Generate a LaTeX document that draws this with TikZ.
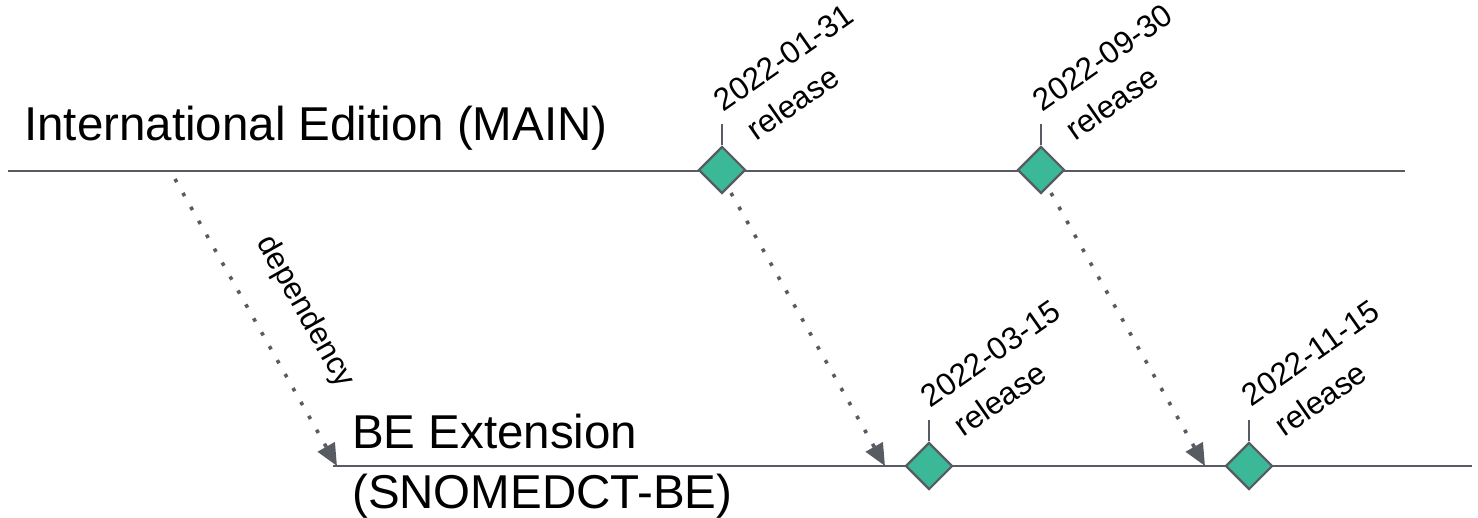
\documentclass[tikz,border=0pt]{standalone}
\usepackage{fontspec}
\setmainfont{Liberation Sans}
\usetikzlibrary{arrows.meta,shapes.geometric,calc}
\definecolor{lg}{RGB}{88,92,98}
\definecolor{msgreen}{RGB}{58,184,151}
\begin{document}
\begin{tikzpicture}[x=1pt,y=-1pt,
  timeline/.style={draw=lg, line width=2.5pt},
  milestone/.style={diamond, draw=lg, fill=msgreen, line width=2.2pt, minimum width=47pt, minimum height=47pt, inner sep=0pt},
  tickline/.style={draw=lg, line width=2.2pt},
  dep/.style={draw=lg, line width=3.6pt, dash pattern=on 3.6pt off 12.4pt, -{Triangle[length=22pt,width=19pt]}},
  big/.style={font=\fontsize{47.5}{63}\selectfont, inner sep=0pt},
  rel/.style={font=\fontsize{31.5}{43}\selectfont, rotate=35, align=left, inner sep=0pt},
]
\useasboundingbox (0,0) rectangle (1478,518);
% timelines
\coordinate (tl) at (8,171);
\coordinate (tr) at (1405,171);
\coordinate (bl) at (333,466);
\coordinate (br) at (1472,466);
\draw[timeline] (tl) -- (tr);
\draw[timeline] (bl) -- (br);
% titles
\node[big, anchor=base west] (main) at (24,141) {International Edition (MAIN)};
\node[big, anchor=base west] (be1) at (352,449) {BE Extension};
\node[big, anchor=base west] (be2) at (352,508) {(SNOMEDCT-BE)};
% dependency arrows
\coordinate (s0) at (175,179); \coordinate (e0) at (337,466);
\coordinate (s1) at (731,193); \coordinate (e1) at (885,466);
\coordinate (s2) at (1051,193); \coordinate (e2) at (1205,466);
\draw[dep] (s0) -- (e0);
\draw[dep] (s1) -- (e1);
\draw[dep] (s2) -- (e2);
\node[font=\fontsize{31}{37}\selectfont, rotate=-60.5, inner sep=0pt] (deplabel) at (305,312) {dependency};
% milestones
\node[milestone] (d1) at (722,170) {};
\node[milestone] (d2) at (1041,170) {};
\node[milestone] (d3) at (929,466) {};
\node[milestone] (d4) at (1249,466) {};
\foreach \d in {d1,d2,d3,d4}{
  \draw[tickline] (\d.north) -- ++(0,-21);
}
\node[rel] (l1) at ($(d1)+(74,-95)$) {2022-01-31\\\hspace*{10pt}release};
\node[rel] (l2) at ($(d2)+(74,-95)$) {2022-09-30\\\hspace*{10pt}release};
\node[rel] (l3) at ($(d3)+(74,-95)$) {2022-03-15\\\hspace*{10pt}release};
\node[rel] (l4) at ($(d4)+(74,-95)$) {2022-11-15\\\hspace*{10pt}release};
\end{tikzpicture}
\end{document}
